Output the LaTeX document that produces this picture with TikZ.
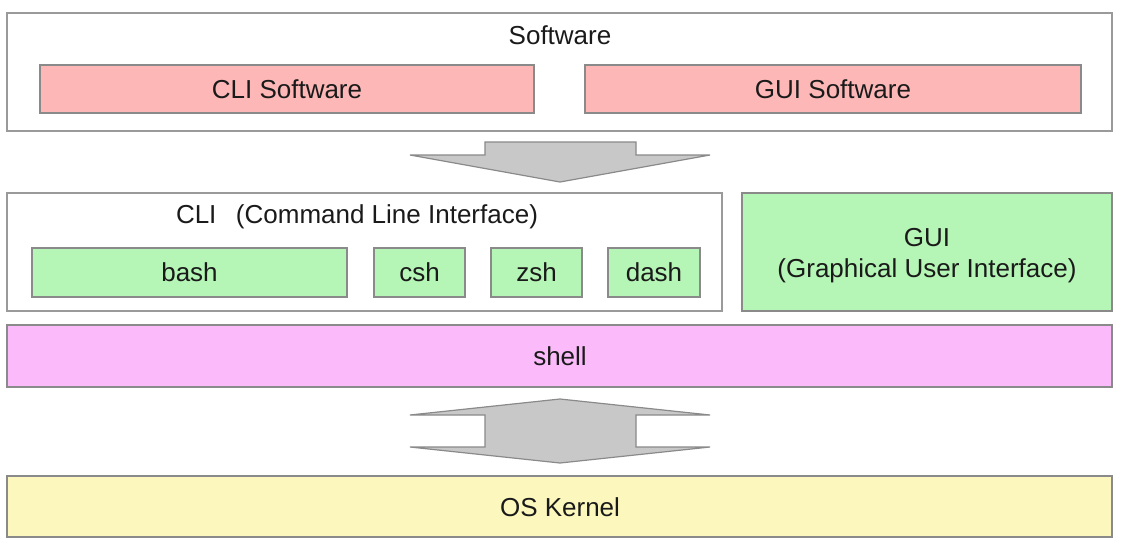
\documentclass[tikz,border=0pt]{standalone}
\usepackage{fontspec}
\setmainfont{Liberation Sans}
\definecolor{bordergray}{HTML}{9A9A9A}
\definecolor{pinkfill}{HTML}{FDB7B7}
\definecolor{greenfill}{HTML}{B5F5B5}
\definecolor{magentafill}{HTML}{FBBBFB}
\definecolor{yellowfill}{HTML}{FCF8BD}
\definecolor{arrowfill}{HTML}{C8C8C8}
\definecolor{arrowline}{HTML}{8A8A8A}
\definecolor{textcol}{HTML}{1A1A1A}
\begin{document}
\begin{tikzpicture}[x=1pt,y=-1pt,
  lbl/.style={font=\fontsize{26}{31}\selectfont, text=textcol, align=center, inner sep=0pt},
  outerbox/.style={draw=bordergray, line width=1.3pt, fill=white},
  innerbox/.style={draw=arrowline, line width=1.2pt},
  blockarrow/.style={draw=arrowline, fill=arrowfill, line width=1.2pt, line join=miter}]
\useasboundingbox (0,0) rectangle (1125,550);
\fill[white] (0,0) rectangle (1125,550);
% Software layer
\draw[outerbox] (7,13) rectangle (1112,131);
\node[lbl] (sw) at (560,35) {Software};
\draw[innerbox, fill=pinkfill] (40,65) rectangle (534,113);
\node[lbl] (clisw) at (287,89) {CLI Software};
\draw[innerbox, fill=pinkfill] (585,65) rectangle (1081,113);
\node[lbl] (guisw) at (833,89) {GUI Software};
% Down arrow
\draw[blockarrow] (485,142) -- (636,142) -- (636,155) -- (710,155) -- (560,182) -- (410,155) -- (485,155) -- cycle;
% CLI layer
\draw[outerbox] (7,193) rectangle (722,311);
\node[lbl] (cli) at (357,217) {CLI\hspace{0.75em}(Command Line Interface)};
\draw[innerbox, fill=greenfill] (32,248) rectangle (347,297);
\node[lbl] (bash) at (189.5,272) {bash};
\draw[innerbox, fill=greenfill] (374,248) rectangle (465,297);
\node[lbl] (csh) at (419.5,272) {csh};
\draw[innerbox, fill=greenfill] (491,248) rectangle (582,297);
\node[lbl] (zsh) at (536.5,272) {zsh};
\draw[innerbox, fill=greenfill] (608,248) rectangle (700,297);
\node[lbl] (dash) at (654,272) {dash};
% GUI
\draw[innerbox, fill=greenfill] (742,193) rectangle (1112,311);
\node[lbl] (gui) at (927,255.5) {GUI\\(Graphical User Interface)};
% shell
\draw[innerbox, fill=magentafill] (7,325) rectangle (1112,387);
\node[lbl] (shell) at (560,356) {shell};
% double arrow
\draw[blockarrow] (560,399) -- (710,415) -- (636,415) -- (636,447) -- (710,447) -- (560,463) -- (410,447) -- (485,447) -- (485,415) -- (410,415) -- cycle;
% OS kernel
\draw[innerbox, fill=yellowfill] (7,476) rectangle (1112,537);
\node[lbl] (kernel) at (560,507) {OS Kernel};
\end{tikzpicture}
\end{document}
